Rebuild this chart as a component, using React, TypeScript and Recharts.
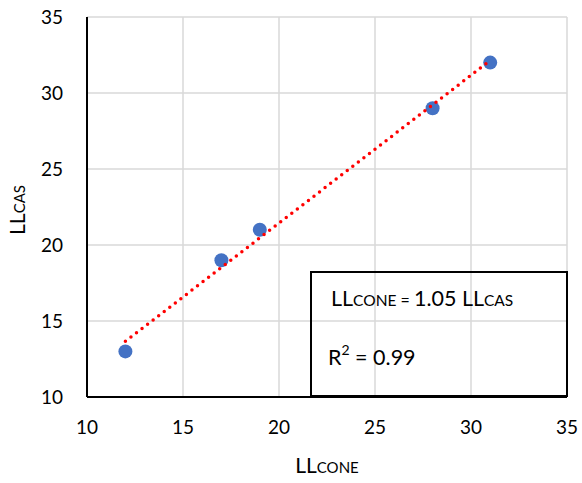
import React from 'react';
import {
  ScatterChart,
  Scatter,
  XAxis,
  YAxis,
  CartesianGrid,
  Label,
} from 'recharts';

// measured points (LLcone vs LLcas)
const llCone = [12, 17, 19, 28, 31];
const llCas = [13, 19, 21, 29, 32];

// trendline ends
const trendX = [12, 31];
const trendY = [13.66, 32.14];

const xTicks = [10, 15, 20, 25, 30, 35];
const yTicks = [10, 15, 20, 25, 30, 35];

const points = llCone.map((x, i) => ({ x, y: llCas[i] }));
const trend = trendX.map((x, i) => ({ x, y: trendY[i] }));

const FONT = 'Lato, "Open Sans", sans-serif';

const XTitle = ({ viewBox }: any) => {
  const cx = viewBox.x + viewBox.width / 2;
  return (
    <text x={cx} y={viewBox.y + 76} textAnchor="middle" fontFamily={FONT} fill="#000">
      <tspan fontSize={21}>LL</tspan>
      <tspan fontSize={15}>CONE</tspan>
    </text>
  );
};

const YTitle = ({ viewBox }: any) => {
  const cy = viewBox.y + viewBox.height / 2 + 3;
  return (
    <text
      x={0}
      y={0}
      transform={`translate(25, ${cy}) rotate(-90)`}
      textAnchor="middle"
      fontFamily={FONT}
      fill="#000"
    >
      <tspan fontSize={21}>LL</tspan>
      <tspan fontSize={15}>CAS</tspan>
    </text>
  );
};

const NoDot = () => null;

export default function App() {
  return (
    <div style={{ position: 'absolute', left: 0, top: 0, width: 582, height: 483, background: '#fff' }}>
      <ScatterChart width={582} height={483} margin={{ top: 17, right: 15, left: 0, bottom: 0 }}>
        <CartesianGrid stroke="#d9d9d9" strokeWidth={1.5} />
        <XAxis
          type="number"
          dataKey="x"
          domain={[10, 35]}
          ticks={xTicks}
          height={86}
          tickSize={0}
          tickMargin={24}
          stroke="#000"
          strokeWidth={2}
          tick={{ fontSize: 19, fill: '#000', fontFamily: FONT }}
        >
          <Label content={<XTitle />} />
        </XAxis>
        <YAxis
          type="number"
          dataKey="y"
          domain={[10, 35]}
          ticks={yTicks}
          width={87}
          tickSize={0}
          tickMargin={24}
          stroke="#000"
          strokeWidth={2}
          tick={{ fontSize: 19, fill: '#000', fontFamily: FONT }}
        >
          <Label content={<YTitle />} />
        </YAxis>
        <Scatter data={points} fill="#4472c4" isAnimationActive={false} shape={(p: any) => (
          <circle cx={p.cx} cy={p.cy} r={7} fill="#4472c4" />
        )} />
        <Scatter
          data={trend}
          isAnimationActive={false}
          line={{ stroke: '#ff0000', strokeWidth: 3.5, strokeDasharray: '0 7', strokeLinecap: 'round' }}
          shape={<NoDot />}
        />
      </ScatterChart>
      <div
        style={{
          position: 'absolute',
          left: 310,
          top: 271,
          width: 254,
          height: 122,
          border: '2px solid #000',
          background: 'transparent',
          fontFamily: FONT,
          color: '#000',
        }}
      >
        <div style={{ position: 'absolute', left: 19, top: 13, whiteSpace: 'nowrap', fontSize: 21.5, lineHeight: 1.2 }}>
          LL<span style={{ fontSize: 15.5 }}>CONE</span>
          <span style={{ fontSize: 16 }}> = </span>1.05 LL<span style={{ fontSize: 15.5 }}>CAS</span>
        </div>
        <div style={{ position: 'absolute', left: 16, top: 72, whiteSpace: 'nowrap', fontSize: 21.5, lineHeight: 1.2 }}>
          R<sup style={{ fontSize: 14, verticalAlign: 'top', position: 'relative', top: -3 }}>2</sup> = 0.99
        </div>
      </div>
    </div>
  );
}
